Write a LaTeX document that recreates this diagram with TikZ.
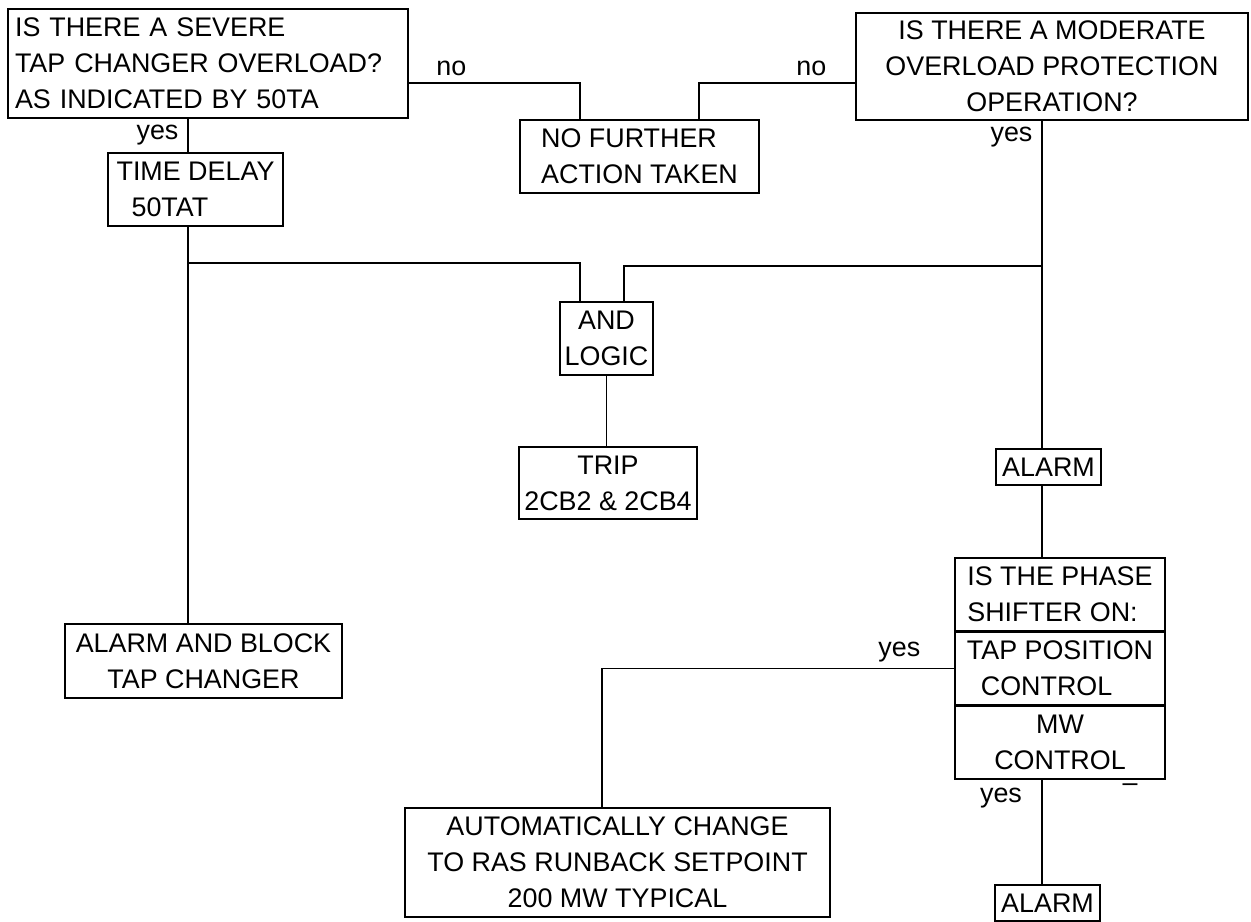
\documentclass[tikz,border=0pt]{standalone}
\usepackage{fontspec}
\setmainfont{Liberation Sans}
\usetikzlibrary{positioning}
\newcommand{\boxfont}{\fontsize{15.3pt}{20.4pt}\selectfont}

\begin{document}
\begin{tikzpicture}[
  x=0.02cm, y=-0.02cm,
  block/.style={
    draw,
    line width=0.9pt,
    inner sep=0pt,
    font=\boxfont,
    align=center
  },
  leftblock/.style={block, align=left},
  link/.style={draw, line width=0.9pt},
  lbl/.style={inner sep=1pt, font=\boxfont}
]
\useasboundingbox (0,0) rectangle (1251,922);

% Top row: the two overload questions and their common "no" outcome.
\node[leftblock, minimum width=8cm, minimum height=2.18cm, text width=7.72cm] (severe) at (208,63.5)
  {IS THERE A SEVERE\\TAP CHANGER OVERLOAD?\\AS INDICATED BY 50TA};
\node[leftblock, minimum width=4.78cm, minimum height=1.46cm] (nfa) at (639.5,156.5)
  {NO FURTHER\\ACTION TAKEN};
\node[block, minimum width=7.84cm, minimum height=2.14cm] (moderate) at (1052,66.5)
  {IS THERE A MODERATE\\OVERLOAD PROTECTION\\OPERATION?};

% Left branch.
\node[leftblock, minimum width=3.5cm, minimum height=1.46cm] (timedelay) at (195.5,189.5)
  {TIME DELAY\\\hspace*{0.3cm}50TAT};
\node[block, minimum width=5.54cm, minimum height=1.48cm] (alarmblock) at (203.5,661)
  {ALARM AND BLOCK\\TAP CHANGER};

% Middle: both branches combined.
\node[block, minimum width=1.86cm, minimum height=1.46cm] (andlogic) at (606.5,338.5)
  {AND\\LOGIC};
\node[block, minimum width=3.56cm, minimum height=1.44cm] (trip) at (608,483)
  {TRIP\\2CB2 \& 2CB4};

% Right branch and the phase shifter check.
\node[block, minimum width=2.1cm, minimum height=0.72cm] (alarmA) at (1048.5,467) {ALARM};
\node[leftblock, minimum width=4.2cm, minimum height=1.46cm] (phasea) at (1060,594.5)
  {IS THE PHASE\\SHIFTER ON:};
\node[leftblock, minimum width=4.2cm, minimum height=1.44cm, below=0pt of phasea] (phaseb)
  {TAP POSITION\\\hspace*{0.28cm}CONTROL};
\node[block, minimum width=4.2cm, minimum height=1.46cm, below=0pt of phaseb] (phasec)
  {MW\\CONTROL};
\node[block, minimum width=2.1cm, minimum height=0.72cm] (alarmB) at (1047.5,903) {ALARM};
\node[block, minimum width=8.5cm, minimum height=2.18cm] (auto) at (617.5,862.5)
  {AUTOMATICALLY CHANGE\\TO RAS RUNBACK SETPOINT\\200 MW TYPICAL};
\node[lbl] (stray) at (1130,788) {--};

% Junctions on the two vertical trunks.
\coordinate (ltrunk) at (188,263);
\coordinate (rtrunk) at (1042,266);

% "no" paths into the common box.
\draw[link] ([yshift=-3.9mm]severe.east) -| node[lbl, pos=0.124, above=2.5pt] {no}
  ([xshift=12.2mm]nfa.north west);
\draw[link] ([xshift=-12.2mm]nfa.north east) |- node[lbl, pos=0.86, above=2.5pt] {no}
  ([yshift=-3.3mm]moderate.west);

% Left trunk.
\draw[link] (severe.south -| ltrunk) -- node[lbl, left=4pt] {yes} (timedelay.north -| ltrunk);
\draw[link] (timedelay.south -| ltrunk) -- (alarmblock.north -| ltrunk);
\draw[link] (ltrunk) -| ([xshift=-5.3mm]andlogic.north);

% Right trunk.
\draw[link] (moderate.south -| rtrunk) -- node[lbl, pos=0.05, left=4pt] {yes} (alarmA.north -| rtrunk);
\draw[link] (rtrunk) -| ([xshift=3.5mm]andlogic.north);
\draw[link] (alarmA.south -| rtrunk) -- (phasea.north -| rtrunk);

\draw[link] (andlogic.south) -- (andlogic.south |- trip.north);

% Phase shifter outcomes.
\draw[link] (phaseb.west) -| node[lbl, pos=0.078, above=2pt] {yes} ([xshift=-3.1mm]auto.north);
\draw[link] (phasec.south -| rtrunk) -- node[lbl, pos=0.17, left=10pt] {yes} (alarmB.north -| rtrunk);

\end{tikzpicture}
\end{document}
